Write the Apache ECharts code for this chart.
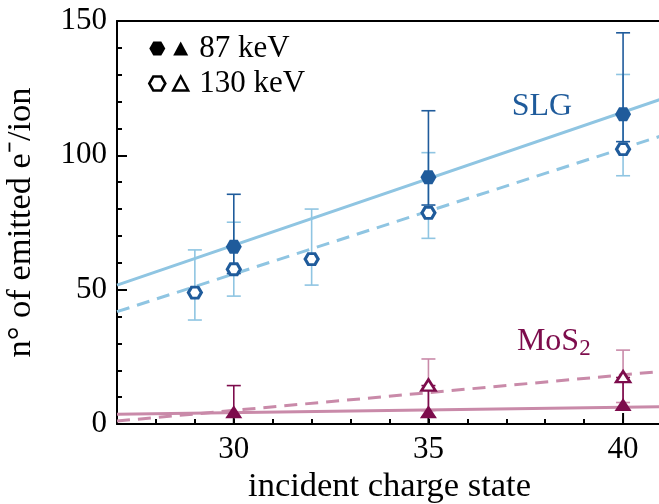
<!DOCTYPE html>
<html>
<head>
<meta charset="utf-8">
<script src="https://cdn.jsdelivr.net/npm/echarts@6/dist/echarts.min.js"></script>
<style>
  html, body { margin: 0; padding: 0; background: #fff; }
  #chart { width: 659px; height: 504px; }
</style>
</head>
<body>
<div id="chart"></div>
<script>
// values (electron yield per ion vs. incident charge state)
const slgQ87 = [30, 35, 40]
const slgY87 = [66.0, 91.8, 115.3]
const slgLo87 = [56.0, 81.5, 105.1]
const slgHi87 = [85.5, 116.6, 145.6]

const slgQ130 = [29, 30, 32, 35, 40]
const slgY130 = [48.9, 57.6, 61.4, 78.6, 102.3]
const slgLo130 = [38.7, 47.6, 51.7, 69.1, 92.4]
const slgHi130 = [64.8, 75.1, 80.0, 101.0, 130.1]

const mosQ87 = [30, 35, 40]
const mosY87 = [4.6, 4.6, 7.3]
const mosLo87 = [2.6, 2.6, 5.3]
const mosHi87 = [14.3, 14.3, 17.3]

const mosQ130 = [35, 40]
const mosY130 = [14.5, 17.6]
const mosLo130 = [5.0, 8.0]
const mosHi130 = [24.2, 27.5]

// linear fits, end points at q = 27 and q = 41
const fitQ = [27, 41]
const fitSlg87 = [51.7, 121.0]
const fitSlg130 = [41.8, 107.3]
const fitMos87 = [3.6, 6.4]
const fitMos130 = [1.1, 19.6]

const xTickLabels = [30, 35, 40]
const yTickLabels = [0, 50, 100, 150]

const darkBlue = '#1f5b9b'
const lightBlue = '#8fc5e2'
const maroon = '#7d0c4c'
const pink = '#c98aa9'
const serif = 'Liberation Serif'
const hexPath = 'path://M0,5 L2.887,0 L8.660,0 L11.547,5 L8.660,10 L2.887,10 Z'

const zip = (...cols) => cols[0].map((_, i) => cols.map(c => c[i]))

const chart = echarts.init(document.getElementById('chart'))

function errorBars (color) {
  return (params, api) => {
    const x = api.value(0)
    const lo = api.coord([x, api.value(1)])
    const hi = api.coord([x, api.value(2)])
    const w = 7
    const style = { stroke: color, lineWidth: 1.6 }
    return {
      type: 'group',
      children: [
        { type: 'line', shape: { x1: lo[0], y1: lo[1], x2: hi[0], y2: hi[1] }, style },
        { type: 'line', shape: { x1: hi[0] - w, y1: hi[1], x2: hi[0] + w, y2: hi[1] }, style },
        { type: 'line', shape: { x1: lo[0] - w, y1: lo[1], x2: lo[0] + w, y2: lo[1] }, style }
      ]
    }
  }
}

// longer ticks at the labelled charge states
function majorTicks (params, api) {
  const p = api.coord([api.value(0), 0])
  return {
    type: 'line',
    shape: { x1: p[0], y1: p[1], x2: p[0], y2: p[1] - 11 },
    style: { stroke: '#000', lineWidth: 2 }
  }
}

const fitLine = (name, vals, color, dashed) => ({
  name,
  type: 'line',
  data: zip(fitQ, vals),
  symbol: 'none',
  silent: true,
  z: 2,
  lineStyle: { color, width: 3, type: dashed ? [13, 8] : 'solid' }
})

const legendText = { fontFamily: serif, fontSize: 31, color: '#000' }
const legendTextPad = { fontFamily: serif, fontSize: 31, color: '#000', padding: [0, 0, 0, 6] }

const option = {
  animation: false,
  textStyle: { fontFamily: serif },
  grid: { left: 117, top: 21, right: -3, bottom: 80, outerBoundsMode: 'none', containLabel: false },
  xAxis: [
    {
      type: 'value',
      min: 27,
      max: 41,
      interval: 1,
      name: 'incident charge state',
      nameLocation: 'middle',
      nameGap: 45,
      nameTextStyle: { fontFamily: serif, fontSize: 34.5, color: '#000' },
      axisLine: { lineStyle: { color: '#000', width: 2 } },
      axisTick: { inside: true, length: 5, lineStyle: { color: '#000', width: 2 } },
      axisLabel: {
        margin: 10,
        fontFamily: serif,
        fontSize: 31,
        color: '#000',
        formatter: v => (xTickLabels.includes(v) ? String(v) : '')
      },
      splitLine: { show: false }
    },
    {
      type: 'value',
      position: 'top',
      min: 27,
      max: 41,
      axisLine: { show: true, lineStyle: { color: '#000', width: 2 } },
      axisTick: { show: false },
      axisLabel: { show: false },
      splitLine: { show: false }
    }
  ],
  yAxis: {
    type: 'value',
    min: 0,
    max: 150,
    interval: 50,
    name: 'n° of emitted e\u207B/ion',
    nameLocation: 'middle',
    nameGap: 79,
    nameTextStyle: { fontFamily: serif, fontSize: 34.5, color: '#000' },
    axisLine: { show: true, lineStyle: { color: '#000', width: 2 } },
    axisTick: { inside: true, length: 10, lineStyle: { color: '#000', width: 2 } },
    minorTick: { show: true, splitNumber: 5, length: 5, lineStyle: { color: '#000', width: 2 } },
    axisLabel: {
      margin: 10,
      fontFamily: serif,
      fontSize: 31,
      color: '#000',
      formatter: v => (yTickLabels.includes(v) ? String(v) : '')
    },
    splitLine: { show: false },
    minorSplitLine: { show: false }
  },
  legend: [
    {
      left: 143,
      top: 28,
      orient: 'vertical',
      selectedMode: false,
      itemWidth: 16,
      itemHeight: 14,
      itemGap: 4,
      formatter: () => ' ',
      textStyle: legendText,
      data: [
        { name: 'SLG 87 keV', icon: hexPath, itemStyle: { color: '#000', borderWidth: 0 }, textStyle: legendText },
        { name: 'SLG 130 keV', icon: hexPath, itemStyle: { color: '#fff', borderColor: '#000', borderWidth: 2.6 }, textStyle: legendText }
      ]
    },
    {
      left: 167,
      top: 28,
      orient: 'vertical',
      selectedMode: false,
      itemWidth: 15,
      itemHeight: 14,
      itemGap: 4,
      formatter: name => name.replace('MoS2 ', ''),
      textStyle: legendTextPad,
      data: [
        { name: 'MoS2 87 keV', icon: 'triangle', itemStyle: { color: '#000', borderWidth: 0 }, textStyle: legendTextPad },
        { name: 'MoS2 130 keV', icon: 'triangle', itemStyle: { color: '#fff', borderColor: '#000', borderWidth: 2.4 }, textStyle: legendTextPad }
      ]
    }
  ],
  graphic: [
    { type: 'text', x: 542, y: 107, style: { text: 'SLG', fill: darkBlue, font: '32px "Liberation Serif"', textAlign: 'center', textVerticalAlign: 'middle' } },
    { type: 'text', x: 548, y: 342, style: { text: 'MoS', fill: maroon, font: '32px "Liberation Serif"', textAlign: 'center', textVerticalAlign: 'middle' } },
    { type: 'text', x: 585, y: 349, style: { text: '2', fill: maroon, font: '23px "Liberation Serif"', textAlign: 'center', textVerticalAlign: 'middle' } }
  ],
  series: [
    fitLine('fit SLG 87', fitSlg87, lightBlue, false),
    fitLine('fit SLG 130', fitSlg130, lightBlue, true),
    fitLine('fit MoS2 87', fitMos87, pink, false),
    fitLine('fit MoS2 130', fitMos130, pink, true),
    {
      type: 'custom',
      renderItem: majorTicks,
      data: xTickLabels.map(v => [v]),
      clip: false,
      silent: true,
      z: 1
    },
    { type: 'custom', renderItem: errorBars(lightBlue), data: zip(slgQ130, slgLo130, slgHi130), silent: true, z: 3 },
    { type: 'custom', renderItem: errorBars(darkBlue), data: zip(slgQ87, slgLo87, slgHi87), silent: true, z: 3 },
    { type: 'custom', renderItem: errorBars(pink), data: zip(mosQ130, mosLo130, mosHi130), silent: true, z: 3 },
    { type: 'custom', renderItem: errorBars(maroon), data: zip(mosQ87, mosLo87, mosHi87), silent: true, z: 3 },
    {
      name: 'SLG 130 keV',
      type: 'scatter',
      data: zip(slgQ130, slgY130),
      symbol: hexPath,
      symbolSize: [13, 11],
      itemStyle: { color: '#fff', borderColor: darkBlue, borderWidth: 3, opacity: 1 },
      z: 4
    },
    {
      name: 'SLG 87 keV',
      type: 'scatter',
      data: zip(slgQ87, slgY87),
      symbol: hexPath,
      symbolSize: [16, 14],
      itemStyle: { color: darkBlue, opacity: 1 },
      z: 4
    },
    {
      name: 'MoS2 130 keV',
      type: 'scatter',
      data: zip(mosQ130, mosY130),
      symbol: 'triangle',
      symbolSize: [14, 11],
      itemStyle: { color: '#fff', borderColor: maroon, borderWidth: 2.6, opacity: 1 },
      z: 4
    },
    {
      name: 'MoS2 87 keV',
      type: 'scatter',
      data: zip(mosQ87, mosY87),
      symbol: 'triangle',
      symbolSize: [17, 13],
      itemStyle: { color: maroon, opacity: 1 },
      z: 4
    }
  ]
}

chart.setOption(option)
</script>
</body>
</html>
